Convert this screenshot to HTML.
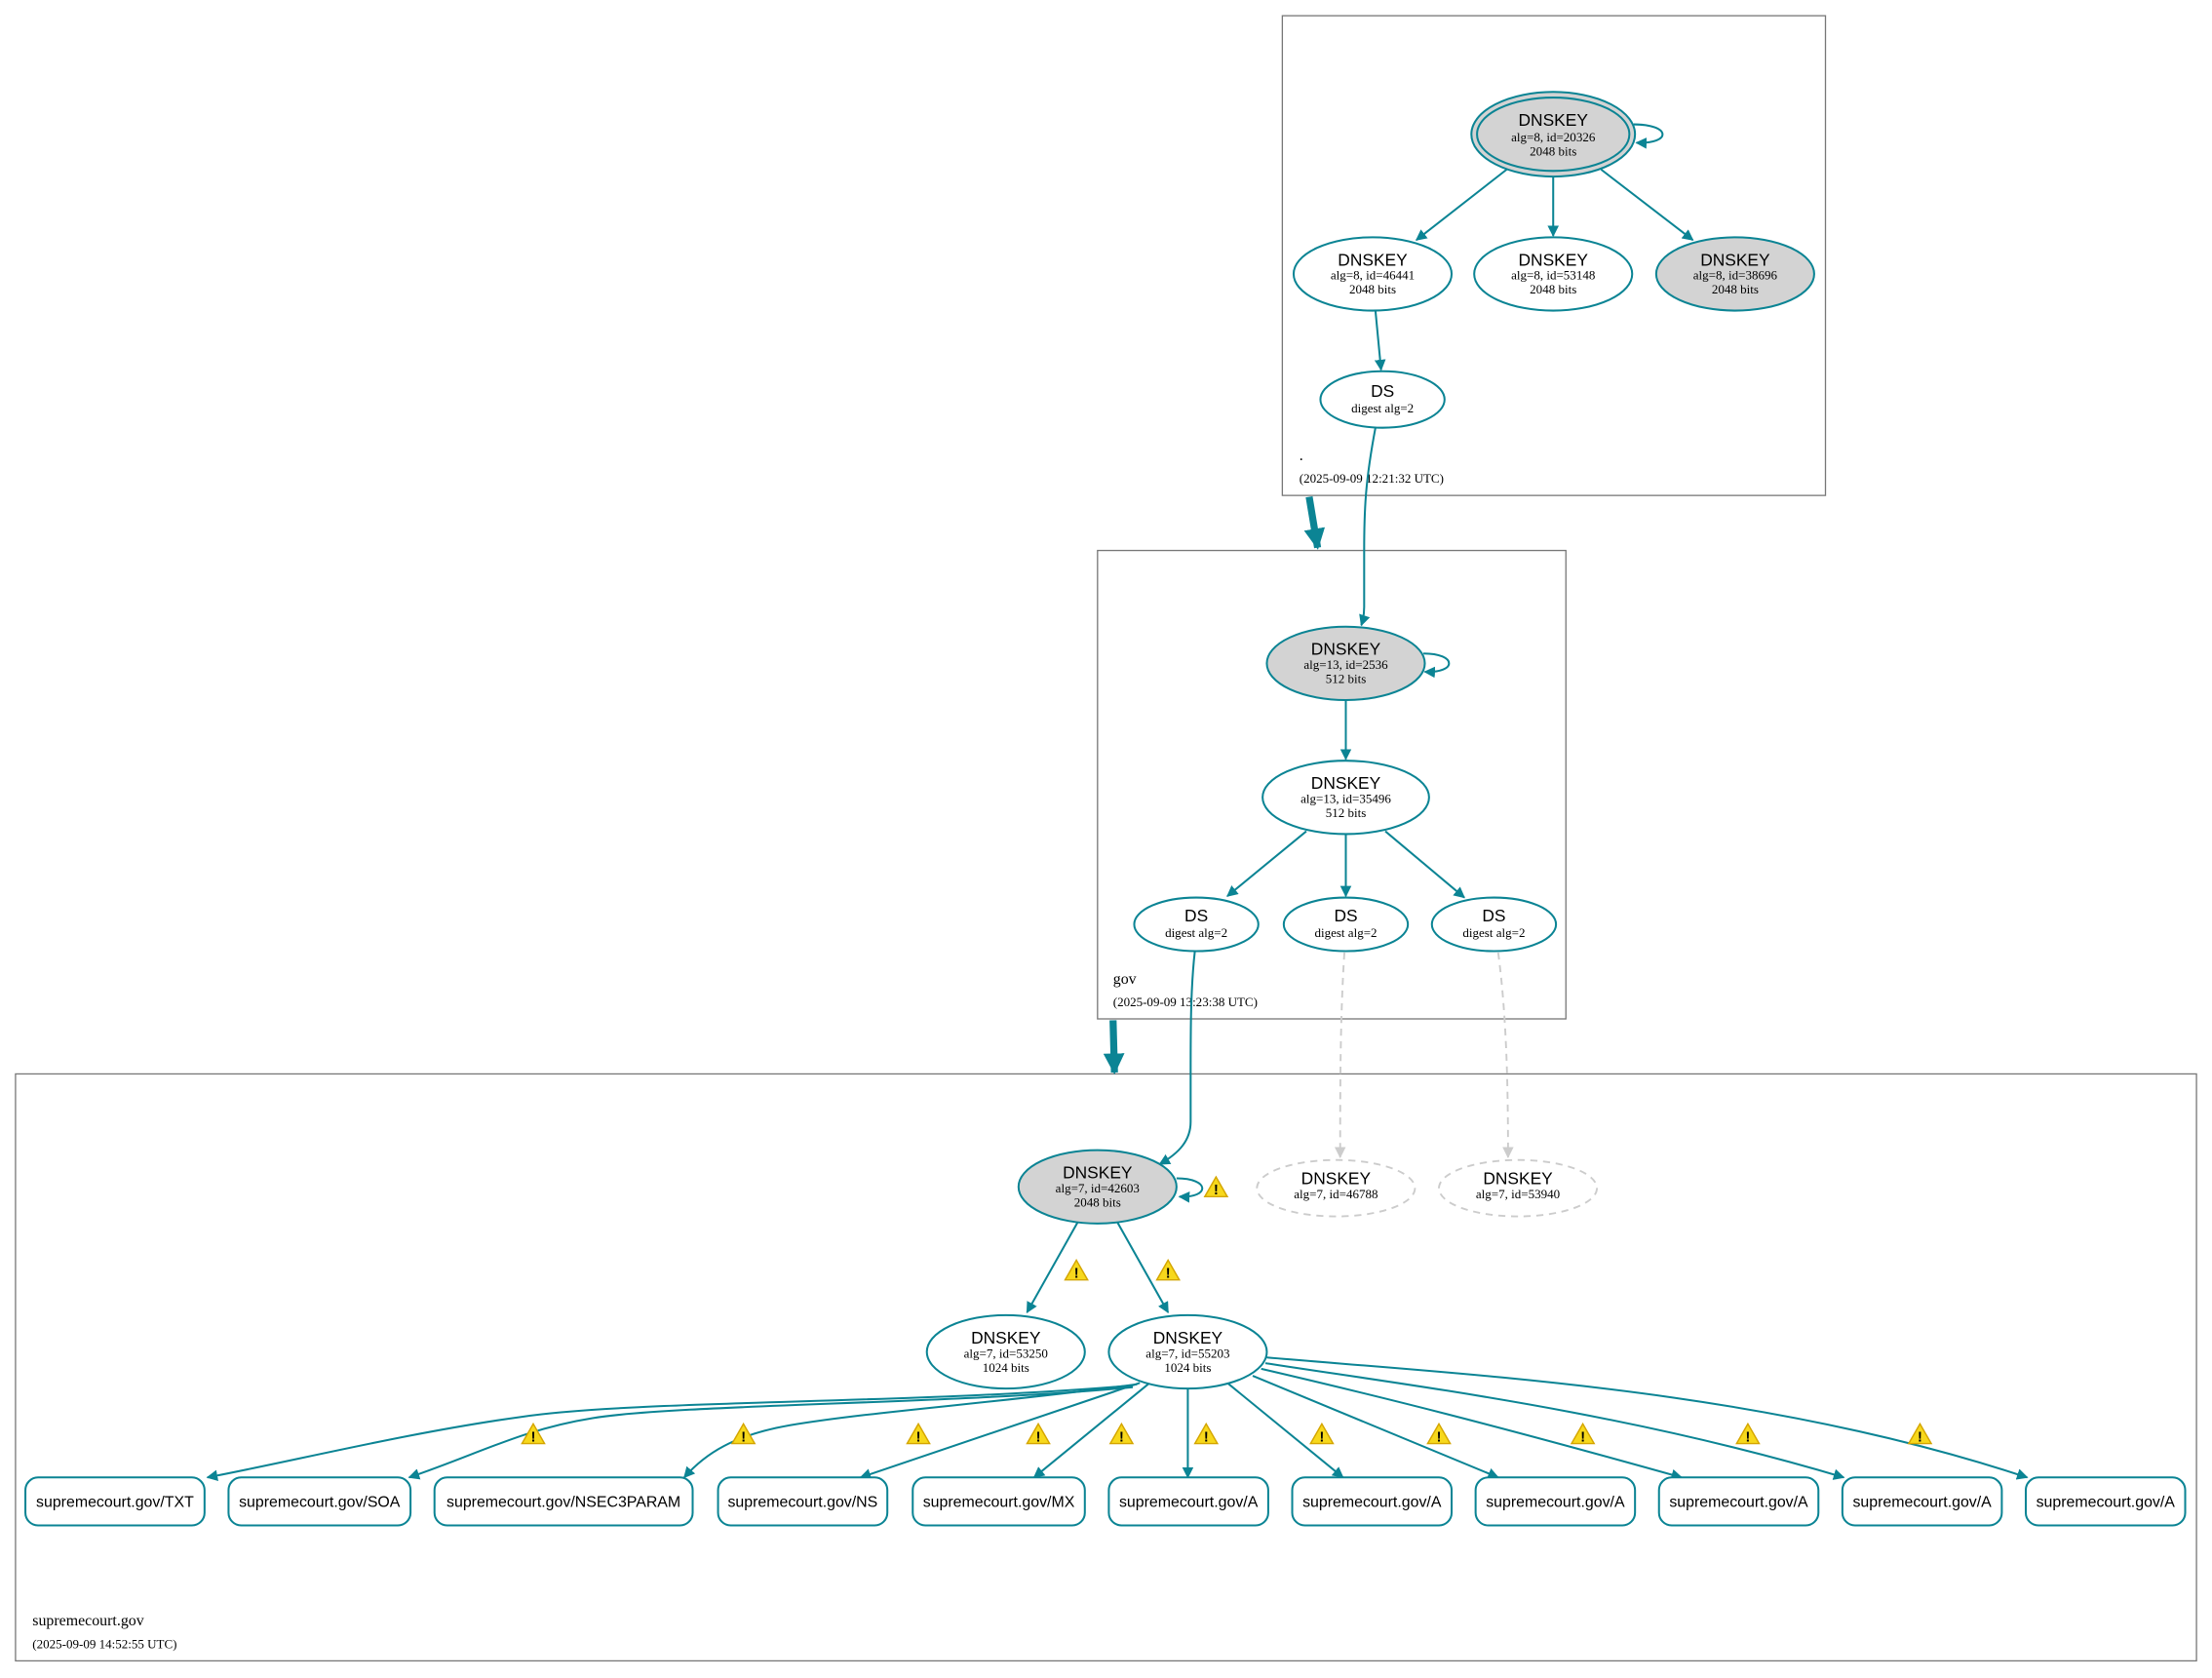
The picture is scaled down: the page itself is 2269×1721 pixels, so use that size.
<!DOCTYPE html>
<html><head><meta charset="utf-8"><style>
html,body{margin:0;padding:0;background:#fff;}
svg{display:block;}
.s{font-family:"Liberation Sans",sans-serif;font-size:12px;fill:#000;}
.r{font-family:"Liberation Sans",sans-serif;font-size:11px;fill:#000;}
.t{font-family:"Liberation Serif",serif;font-size:9px;fill:#000;}
.c{font-family:"Liberation Serif",serif;font-size:11px;fill:#000;}
.e{fill:none;stroke:#0b8494;stroke-width:1.4;}
.n{fill:#fff;stroke:#0b8494;stroke-width:1.4;}
.g{fill:#d3d3d3;stroke:#0b8494;stroke-width:1.4;}
.d{fill:none;stroke:#cccccc;stroke-width:1.3;stroke-dasharray:5,4;}
.cl{fill:none;stroke:#777;stroke-width:0.9;}
</style></head><body>
<svg width="2269" height="1721" viewBox="0 0 1568 1189" xmlns="http://www.w3.org/2000/svg">
<defs>
<marker id="a" viewBox="0 0 10 10" refX="9" refY="5" markerWidth="8" markerHeight="8" markerUnits="userSpaceOnUse" orient="auto"><path d="M0,0 L10,5 L0,10 z" fill="#0b8494"/></marker>
<marker id="ag" viewBox="0 0 10 10" refX="9" refY="5" markerWidth="8" markerHeight="8" markerUnits="userSpaceOnUse" orient="auto"><path d="M0,0 L10,5 L0,10 z" fill="#cccccc"/></marker>
<marker id="at" viewBox="0 0 10 10" refX="9" refY="5" markerWidth="3" markerHeight="3" orient="auto"><path d="M0,0 L10,5 L0,10 z" fill="#0b8494"/></marker>
<g id="w"><path d="M0,-8 L8,6 L-8,6 z" fill="#f7d81c" stroke="#d4a500" stroke-width="1"/><text x="0" y="4.5" text-anchor="middle" font-family="Liberation Sans,sans-serif" font-size="10" font-weight="bold">!</text></g>
</defs>

<rect class="cl" x="909" y="11" width="385" height="340"/>
<text class="c" x="921" y="326">.</text>
<text class="t" x="921" y="342">(2025-09-09 12:21:32 UTC)</text>
<rect class="cl" x="778" y="390" width="332" height="332"/>
<text class="c" x="789" y="697">gov</text>
<text class="t" x="789" y="713">(2025-09-09 13:23:38 UTC)</text>
<rect class="cl" x="11" y="761" width="1546" height="416"/>
<text class="c" x="23" y="1152">supremecourt.gov</text>
<text class="t" x="23" y="1168">(2025-09-09 14:52:55 UTC)</text>

<path d="M928,352 L934,388" stroke="#0b8494" stroke-width="5" fill="none" marker-end="url(#at)"/>
<path d="M789,723 L790,760" stroke="#0b8494" stroke-width="5" fill="none" marker-end="url(#at)"/>

<path class="e" d="M1068,120 L1004,170" marker-end="url(#a)"/>
<path class="e" d="M1101,125 L1101,167" marker-end="url(#a)"/>
<path class="e" d="M1135,120 L1200,170" marker-end="url(#a)"/>
<path class="e" d="M975,220 L979,262" marker-end="url(#a)"/>
<path class="e" d="M1158,88 C1185,88 1185,102 1160,101" marker-end="url(#a)"/>
<path class="e" d="M975,303 C968,340 967,360 967,390 L967,430 C967,436 966,440 965,443" marker-end="url(#a)"/>

<path class="e" d="M1009,463 C1033,463 1033,477 1010,476" marker-end="url(#a)"/>
<path class="e" d="M954,496 L954,538" marker-end="url(#a)"/>
<path class="e" d="M926,589 L870,635" marker-end="url(#a)"/>
<path class="e" d="M954,591 L954,635" marker-end="url(#a)"/>
<path class="e" d="M982,589 L1038,636" marker-end="url(#a)"/>
<path class="e" d="M847,674 C844,700 844,730 844,760 L844,795 C844,808 836,817 822,825" marker-end="url(#a)"/>
<path class="d" d="M953,675 C950,720 950,770 950,820" marker-end="url(#ag)"/>
<path class="d" d="M1062,675 C1068,720 1069,770 1069,820" marker-end="url(#ag)"/>

<path class="e" d="M834,835 C858,835 858,849 836,848" marker-end="url(#a)"/>
<path class="e" d="M764,866 L728,930" marker-end="url(#a)"/>
<path class="e" d="M792,866 L828,930" marker-end="url(#a)"/>
<path class="e" d="M800,982 C650,995 450,992 370,1004 C290,1015 210,1035 147,1047" marker-end="url(#a)"/>
<path class="e" d="M803,983 C680,995 480,995 420,1005 C370,1013 340,1030 290,1047" marker-end="url(#a)"/>
<path class="e" d="M806,981 C700,995 620,1000 560,1010 C520,1017 500,1030 485,1047" marker-end="url(#a)"/>
<path class="e" d="M808,980 L610,1047" marker-end="url(#a)"/>
<path class="e" d="M815,980 L733,1047" marker-end="url(#a)"/>
<path class="e" d="M842,984 L842,1047" marker-end="url(#a)"/>
<path class="e" d="M870,980 L952,1047" marker-end="url(#a)"/>
<path class="e" d="M888,975 L1062,1047" marker-end="url(#a)"/>
<path class="e" d="M894,970 C980,990 1060,1010 1192,1047" marker-end="url(#a)"/>
<path class="e" d="M897,966 C1000,982 1150,1000 1307,1047" marker-end="url(#a)"/>
<path class="e" d="M898,962 C1050,975 1250,985 1437,1047" marker-end="url(#a)"/>

<ellipse class="g" cx="1101" cy="95" rx="58" ry="30" fill="none"/>
<ellipse class="g" cx="1101" cy="95" rx="54" ry="26"/>
<text class="s" x="1101" y="89" text-anchor="middle">DNSKEY</text>
<text class="t" x="1101" y="100" text-anchor="middle">alg=8, id=20326</text>
<text class="t" x="1101" y="110" text-anchor="middle">2048 bits</text>

<ellipse class="n" cx="973" cy="194" rx="56" ry="26"/>
<text class="s" x="973" y="188" text-anchor="middle">DNSKEY</text>
<text class="t" x="973" y="198" text-anchor="middle">alg=8, id=46441</text>
<text class="t" x="973" y="208" text-anchor="middle">2048 bits</text>
<ellipse class="n" cx="1101" cy="194" rx="56" ry="26"/>
<text class="s" x="1101" y="188" text-anchor="middle">DNSKEY</text>
<text class="t" x="1101" y="198" text-anchor="middle">alg=8, id=53148</text>
<text class="t" x="1101" y="208" text-anchor="middle">2048 bits</text>
<ellipse class="g" cx="1230" cy="194" rx="56" ry="26"/>
<text class="s" x="1230" y="188" text-anchor="middle">DNSKEY</text>
<text class="t" x="1230" y="198" text-anchor="middle">alg=8, id=38696</text>
<text class="t" x="1230" y="208" text-anchor="middle">2048 bits</text>
<ellipse class="n" cx="980" cy="283" rx="44" ry="20"/>
<text class="s" x="980" y="281" text-anchor="middle">DS</text>
<text class="t" x="980" y="292" text-anchor="middle">digest alg=2</text>

<ellipse class="g" cx="954" cy="470" rx="56" ry="26"/>
<text class="s" x="954" y="464" text-anchor="middle">DNSKEY</text>
<text class="t" x="954" y="474" text-anchor="middle">alg=13, id=2536</text>
<text class="t" x="954" y="484" text-anchor="middle">512 bits</text>
<ellipse class="n" cx="954" cy="565" rx="59" ry="26"/>
<text class="s" x="954" y="559" text-anchor="middle">DNSKEY</text>
<text class="t" x="954" y="569" text-anchor="middle">alg=13, id=35496</text>
<text class="t" x="954" y="579" text-anchor="middle">512 bits</text>
<ellipse class="n" cx="848" cy="655" rx="44" ry="19"/>
<text class="s" x="848" y="653" text-anchor="middle">DS</text>
<text class="t" x="848" y="664" text-anchor="middle">digest alg=2</text>
<ellipse class="n" cx="954" cy="655" rx="44" ry="19"/>
<text class="s" x="954" y="653" text-anchor="middle">DS</text>
<text class="t" x="954" y="664" text-anchor="middle">digest alg=2</text>
<ellipse class="n" cx="1059" cy="655" rx="44" ry="19"/>
<text class="s" x="1059" y="653" text-anchor="middle">DS</text>
<text class="t" x="1059" y="664" text-anchor="middle">digest alg=2</text>

<ellipse class="g" cx="778" cy="841" rx="56" ry="26"/>
<text class="s" x="778" y="835" text-anchor="middle">DNSKEY</text>
<text class="t" x="778" y="845" text-anchor="middle">alg=7, id=42603</text>
<text class="t" x="778" y="855" text-anchor="middle">2048 bits</text>
<ellipse cx="947" cy="842" rx="56" ry="20" fill="#fff" stroke="#cccccc" stroke-width="1.3" stroke-dasharray="5,4"/>
<text class="s" x="947" y="839" text-anchor="middle">DNSKEY</text>
<text class="t" x="947" y="849" text-anchor="middle">alg=7, id=46788</text>
<ellipse cx="1076" cy="842" rx="56" ry="20" fill="#fff" stroke="#cccccc" stroke-width="1.3" stroke-dasharray="5,4"/>
<text class="s" x="1076" y="839" text-anchor="middle">DNSKEY</text>
<text class="t" x="1076" y="849" text-anchor="middle">alg=7, id=53940</text>
<ellipse class="n" cx="713" cy="958" rx="56" ry="26"/>
<text class="s" x="713" y="952" text-anchor="middle">DNSKEY</text>
<text class="t" x="713" y="962" text-anchor="middle">alg=7, id=53250</text>
<text class="t" x="713" y="972" text-anchor="middle">1024 bits</text>
<ellipse class="n" cx="842" cy="958" rx="56" ry="26"/>
<text class="s" x="842" y="952" text-anchor="middle">DNSKEY</text>
<text class="t" x="842" y="962" text-anchor="middle">alg=7, id=55203</text>
<text class="t" x="842" y="972" text-anchor="middle">1024 bits</text>

<g>
<rect class="n" x="18" y="1047" width="127" height="34" rx="9"/><text class="r" x="81.5" y="1068" text-anchor="middle">supremecourt.gov/TXT</text>
<rect class="n" x="162" y="1047" width="129" height="34" rx="9"/><text class="r" x="226.5" y="1068" text-anchor="middle">supremecourt.gov/SOA</text>
<rect class="n" x="308" y="1047" width="183" height="34" rx="9"/><text class="r" x="399.5" y="1068" text-anchor="middle">supremecourt.gov/NSEC3PARAM</text>
<rect class="n" x="509" y="1047" width="120" height="34" rx="9"/><text class="r" x="569" y="1068" text-anchor="middle">supremecourt.gov/NS</text>
<rect class="n" x="647" y="1047" width="122" height="34" rx="9"/><text class="r" x="708" y="1068" text-anchor="middle">supremecourt.gov/MX</text>
<rect class="n" x="786" y="1047" width="113" height="34" rx="9"/><text class="r" x="842.5" y="1068" text-anchor="middle">supremecourt.gov/A</text>
<rect class="n" x="916" y="1047" width="113" height="34" rx="9"/><text class="r" x="972.5" y="1068" text-anchor="middle">supremecourt.gov/A</text>
<rect class="n" x="1046" y="1047" width="113" height="34" rx="9"/><text class="r" x="1102.5" y="1068" text-anchor="middle">supremecourt.gov/A</text>
<rect class="n" x="1176" y="1047" width="113" height="34" rx="9"/><text class="r" x="1232.5" y="1068" text-anchor="middle">supremecourt.gov/A</text>
<rect class="n" x="1306" y="1047" width="113" height="34" rx="9"/><text class="r" x="1362.5" y="1068" text-anchor="middle">supremecourt.gov/A</text>
<rect class="n" x="1436" y="1047" width="113" height="34" rx="9"/><text class="r" x="1492.5" y="1068" text-anchor="middle">supremecourt.gov/A</text>
</g>

<use href="#w" x="862" y="842"/>
<use href="#w" x="763" y="901"/>
<use href="#w" x="828" y="901"/>
<use href="#w" x="378" y="1017"/>
<use href="#w" x="527" y="1017"/>
<use href="#w" x="651" y="1017"/>
<use href="#w" x="736" y="1017"/>
<use href="#w" x="795" y="1017"/>
<use href="#w" x="855" y="1017"/>
<use href="#w" x="937" y="1017"/>
<use href="#w" x="1020" y="1017"/>
<use href="#w" x="1122" y="1017"/>
<use href="#w" x="1239" y="1017"/>
<use href="#w" x="1361" y="1017"/>
</svg>
</body></html>
